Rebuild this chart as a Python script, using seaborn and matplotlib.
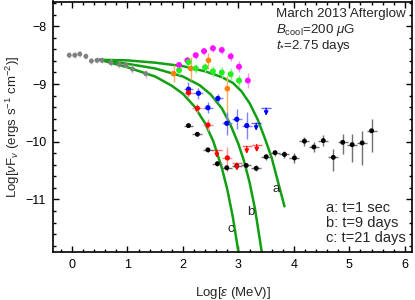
import matplotlib
matplotlib.use("Agg")
import matplotlib.pyplot as plt
from matplotlib.ticker import MultipleLocator
import pandas as pd
import seaborn as sns

# low energy (gray) points
gray_x = [-0.05, 0.05, 0.14, 0.25, 0.35, 0.45, 0.54, 0.70, 0.85, 0.97, 1.09, 1.33]
gray_y = [-8.50, -8.50, -8.48, -8.52, -8.60, -8.59, -8.59, -8.63, -8.66, -8.67, -8.74, -8.82]
gray_yerr = [0.05, 0.05, 0.05, 0.05, 0.05, 0.05, 0.05, 0.06, 0.06, 0.06, 0.07, 0.07]

mag_x = [1.93, 2.08, 2.23, 2.38, 2.54, 2.70, 2.86, 3.01, 3.17]
mag_y = [-8.67, -8.59, -8.50, -8.43, -8.38, -8.41, -8.52, -8.70, -8.94]
mag_yerr = [0.06, 0.06, 0.06, 0.06, 0.06, 0.07, 0.08, 0.10, 0.13]

grn_x = [1.93, 2.10, 2.23, 2.40, 2.54, 2.70, 2.86, 3.01]
grn_y = [-8.76, -8.62, -8.73, -8.71, -8.78, -8.80, -8.83, -8.94]
grn_yerr = [0.08, 0.08, 0.08, 0.08, 0.09, 0.09, 0.10, 0.10]

org_x = [1.83, 2.14, 2.46, 2.80]
org_y = [-8.82, -8.73, -8.59, -9.08]
org_lo = [0.15, 0.20, 0.15, 0.60]
org_hi = [0.15, 0.20, 0.12, 0.22]

blue_x = [2.10, 2.28, 2.45, 2.63, 2.79, 2.97, 3.15]
blue_y = [-9.09, -9.16, -9.41, -9.25, -9.68, -9.61, -9.72]
blue_yerr = [0.12, 0.10, 0.10, 0.07, 0.20, 0.17, 0.23]
blue_ul_x = [3.32, 3.50]
blue_ul_y = [-9.68, -9.42]

red_x = [2.10, 2.26, 2.45, 2.80]
red_y = [-9.15, -9.42, -9.71, -10.28]
red_yerr = [0.08, 0.08, 0.10, 0.19]
red_ul_x = [2.61, 2.97, 3.15, 3.33]
red_ul_y = [-10.15, -10.37, -10.08, -10.05]

blk_x = [2.10, 2.26, 2.45, 2.62, 2.79, 2.97, 3.14, 3.32, 3.50, 3.66,
         3.83, 4.01, 4.19, 4.36, 4.53, 4.71, 4.88, 5.05, 5.23, 5.40]
blk_y = [-9.72, -9.87, -10.14, -10.38, -10.45, -10.42, -10.41, -10.46, -10.26, -10.19,
         -10.22, -10.28, -9.99, -10.09, -9.98, -10.27, -10.01, -10.05, -10.02, -9.81]
blk_lo = [0.03, 0.03, 0.03, 0.04, 0.05, 0.05, 0.05, 0.05, 0.05, 0.05,
          0.06, 0.08, 0.08, 0.09, 0.10, 0.23, 0.20, 0.30, 0.38, 0.37]
blk_hi = [0.03, 0.03, 0.03, 0.04, 0.05, 0.05, 0.05, 0.05, 0.05, 0.05,
          0.06, 0.08, 0.08, 0.09, 0.10, 0.14, 0.14, 0.18, 0.21, 0.20]

# model curves
curve_a_x = [0.5, 1.0, 1.5, 2.0, 2.4, 2.7, 2.9, 3.05, 3.2, 3.35, 3.48, 3.6, 3.72, 3.83]
curve_a_y = [-8.58, -8.59, -8.63, -8.69, -8.78, -8.88, -8.98, -9.12, -9.33, -9.62,
             -9.95, -10.28, -10.72, -11.12]
curve_b_x = [0.5, 1.0, 1.5, 2.0, 2.3, 2.5, 2.7, 2.85, 3.0, 3.1, 3.2, 3.3, 3.42]
curve_b_y = [-8.58, -8.65, -8.73, -8.87, -9.02, -9.18, -9.42, -9.69, -10.04,
             -10.33, -10.70, -11.17, -11.91]
curve_c_x = [0.5, 1.0, 1.5, 1.8, 2.0, 2.2, 2.4, 2.55, 2.7, 2.8, 2.9, 3.0]
curve_c_y = [-8.58, -8.71, -8.87, -9.03, -9.17, -9.38, -9.68, -10.00, -10.45,
             -10.83, -11.31, -11.91]

sns.set_theme(style="ticks")
plt.rcParams['font.family'] = ['Liberation Sans', 'DejaVu Sans']
plt.rcParams['mathtext.fontset'] = 'custom'
plt.rcParams['mathtext.rm'] = 'Liberation Sans'
plt.rcParams['mathtext.it'] = 'Liberation Sans:italic'

fig = plt.figure(figsize=(4.15, 3.0), dpi=100)
ax = fig.add_axes([0.128, 0.16, 0.865, 0.835])

green = '#11a011'
for cx, cy in [(curve_a_x, curve_a_y), (curve_b_x, curve_b_y), (curve_c_x, curve_c_y)]:
    sns.lineplot(x=cx, y=cy, sort=False, color=green, lw=1.8, ax=ax)

def pts(x, y, yerr, color, ecolor, xerr=None, ms=3.2):
    ax.errorbar(x, y, yerr=yerr, xerr=xerr, fmt='none', ecolor=ecolor, elinewidth=1.0, zorder=3)
    sns.scatterplot(x=x, y=y, color=color, s=ms ** 2 * 1.6, edgecolor='none', ax=ax, zorder=4)

def limits(x, y, color):
    ax.errorbar(x, y, xerr=0.09, fmt='none', ecolor=color, elinewidth=1.0, alpha=0.6, zorder=3)
    for xi, yi in zip(x, y):
        ax.annotate('', xy=(xi, yi - 0.13), xytext=(xi, yi),
                    arrowprops=dict(arrowstyle='-|>', color=color, lw=1.0,
                                    mutation_scale=6, shrinkA=0, shrinkB=0), zorder=4)

pts(gray_x, gray_y, gray_yerr, '#808080', '#c0c0c0', ms=2.8)
pts(org_x, org_y, [org_lo, org_hi], '#ff8000', '#ffb060')
pts(mag_x, mag_y, mag_yerr, '#ff10ff', '#ff90ff', ms=3.4)
pts(grn_x, grn_y, grn_yerr, '#22ee22', '#90f090', ms=3.4)
pts(blk_x, blk_y, [blk_lo, blk_hi], '#000000', '#707070', xerr=0.09, ms=2.8)
pts(blue_x, blue_y, blue_yerr, '#0000ff', '#8080ff', xerr=0.09, ms=3.0)
pts(red_x, red_y, red_yerr, '#ff0000', '#ff9090', xerr=0.09, ms=3.0)
limits(blue_ul_x, blue_ul_y, '#0000ff')
limits(red_ul_x, red_ul_y, '#ff0000')

ax.set_xlim(-0.34, 6.13)
ax.set_ylim(-11.91, -7.57)
ax.xaxis.set_major_locator(MultipleLocator(1))
ax.xaxis.set_minor_locator(MultipleLocator(0.2))
ax.yaxis.set_major_locator(MultipleLocator(1))
ax.yaxis.set_minor_locator(MultipleLocator(0.2))
ax.tick_params(which='both', direction='in', top=True, right=True, width=1.0,
               labelsize=9, colors='black')
ax.tick_params(which='major', length=4.5, pad=5)
ax.tick_params(which='minor', length=2.2)
for sp in ax.spines.values():
    sp.set_linewidth(1.2)
    sp.set_color('black')

ax.set_xlabel(r"Log[$\epsilon$ (MeV)]", fontsize=9.5, labelpad=10)
ax.set_ylabel(r"Log[$\nu$F$_\nu$ (ergs s$^{-1}$ cm$^{-2}$)]", fontsize=9.5, labelpad=2)

ax.text(3.68, -7.79, "March 2013 Afterglow", fontsize=9.6, va='center')
ax.text(3.68, -8.06, r"$B_\mathrm{cool}$=200 $\mu$G", fontsize=9.6, va='center')
ax.text(3.68, -8.34, r"$t_{*}$=2.75 days", fontsize=9.6, va='center')

ax.text(3.68, -10.82, "a", fontsize=9.5, ha='center', va='center')
ax.text(3.22, -11.21, "b", fontsize=9.5, ha='center', va='center')
ax.text(2.86, -11.52, "c", fontsize=9.5, ha='center', va='center')
ax.text(4.58, -11.14, "a: t=1 sec", fontsize=10.5, va='center')
ax.text(4.58, -11.40, "b: t=9 days", fontsize=10.5, va='center')
ax.text(4.58, -11.66, "c: t=21 days", fontsize=10.5, va='center')

fig.savefig("out.png", dpi=100)
